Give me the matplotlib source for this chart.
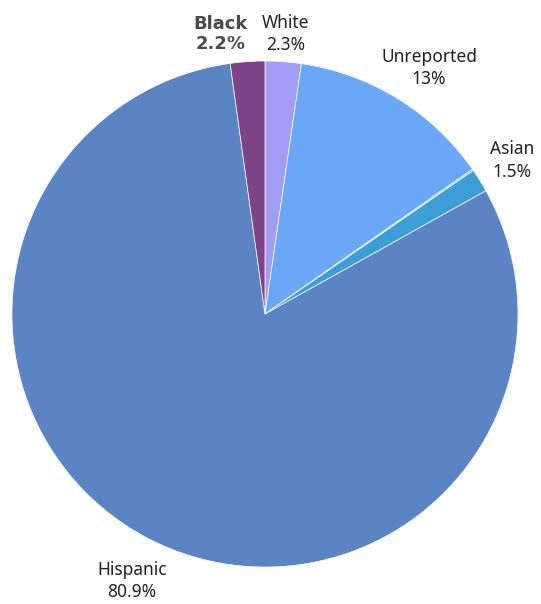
import matplotlib
matplotlib.use("Agg")
import matplotlib.pyplot as plt
import numpy as np

# slices, clockwise from 12 o'clock
labels = ["White", "Unreported", "Other", "Asian", "Hispanic", "Black"]
values = [2.3, 13, 0.1, 1.5, 80.9, 2.2]
pct_text = ["2.3%", "13%", "", "1.5%", "80.9%", "2.2%"]
colors = ["#a29cf4", "#6aa8f7", "#4fc8dc", "#3d9dd6", "#5b84c4", "#7d4488"]

plt.rcParams['font.family'] = ['Noto Sans', 'DejaVu Sans']

fig = plt.figure(figsize=(5.41, 6.04), dpi=100)
ax = fig.add_axes([0.4898 - 0.4677, 0.4801 - 0.4189, 0.9354, 0.8378])

wedges, _ = ax.pie(values, colors=colors, startangle=90, counterclock=False,
                   wedgeprops=dict(edgecolor="white", linewidth=0.5))
ax.set_aspect("equal")
ax.set_xlim(-1, 1)
ax.set_ylim(-1, 1)

# label distance per slice (radius units) and small angle nudges
dist = [1.11, 1.17, 0, 1.15, 1.18, 1.12]
nudge = [0, -2, 0, 0, 0, 5]
for w, lab, p, d, n in zip(wedges, labels, pct_text, dist, nudge):
    if not p:
        continue
    mid = np.deg2rad((w.theta1 + w.theta2) / 2 + n)
    x, y = d * np.cos(mid), d * np.sin(mid)
    if lab == "Black":
        ax.text(x, y, lab + "\n" + p, ha="center", va="center", fontsize=13,
                color="#4a4a4a", family="DejaVu Sans", fontweight="bold",
                linespacing=1.15)
    else:
        ax.text(x, y, lab + "\n" + p, ha="center", va="center", fontsize=12.5,
                color="#222222", linespacing=1.3)

fig.savefig("out.png", dpi=100)
